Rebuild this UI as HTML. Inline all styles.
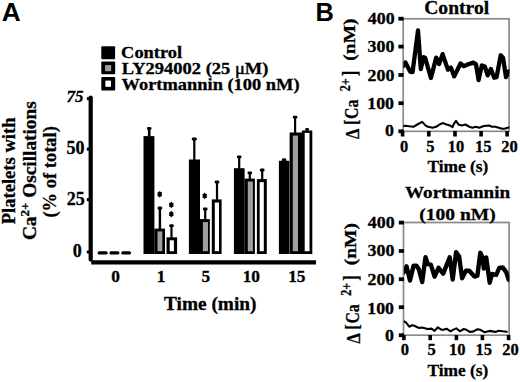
<!DOCTYPE html>
<html><head><meta charset="utf-8">
<style>
html,body{margin:0;padding:0;background:#fff;width:520px;height:382px;overflow:hidden}
svg{display:block}
.s{font-family:"Liberation Serif",serif;font-weight:bold;fill:#000;stroke:#000;stroke-width:0.3px}
.h{font-family:"Liberation Sans",sans-serif;font-weight:bold;fill:#000}
</style></head><body>
<svg width="520" height="382" viewBox="0 0 520 382">
<rect width="520" height="382" fill="#fff"/>
<rect x="101.3" y="46.3" width="13.8" height="12.9" rx="1" fill="#000"/>
<rect x="101.3" y="61.6" width="13.9" height="12.6" rx="1" fill="#000"/>
<rect x="105.1" y="65.1" width="6.1" height="6.1" fill="#a0a0a0"/>
<rect x="101.3" y="76.9" width="13.9" height="13.6" rx="1" fill="#000"/>
<rect x="105.4" y="80.6" width="5.6" height="6.2" fill="#fff"/>
<path d="M90.7,97.6 V259.6" stroke="#000" stroke-width="4.2" fill="none" stroke-linecap="round"/>
<path d="M91.2,262.3 H316" stroke="#000" stroke-width="4.2" fill="none"/>
<rect x="86.8" y="97.1" width="3" height="3.2" rx="0.8" fill="#000"/>
<rect x="86.8" y="147.6" width="3" height="3.2" rx="0.8" fill="#000"/>
<rect x="86.8" y="198.1" width="3" height="3.2" rx="0.8" fill="#000"/>
<rect x="86.8" y="250.4" width="3" height="3.2" rx="0.8" fill="#000"/>
<g stroke="#000" stroke-width="3.4" stroke-linecap="round">
<path d="M99.2,252.9 H106"/>
<path d="M111.1,252.9 H117.8"/>
<path d="M122.9,252.9 H129.4"/>
</g>
<rect x="143.5" y="136.1" width="10.90" height="117.90" fill="#000"/>
<rect x="147.90" y="128.40" width="2.6" height="8.20" fill="#000"/>
<rect x="146.90" y="127.00" width="4.6" height="2.8" rx="1.2" fill="#000"/>
<rect x="154.3" y="228.6" width="10.70" height="25.40" fill="#000"/>
<rect x="157.5" y="231.4" width="4.80" height="19.80" fill="#a0a0a0"/>
<rect x="158.70" y="208.00" width="2.4" height="21.10" fill="#000"/>
<rect x="157.60" y="206.60" width="4.6" height="2.8" rx="1.2" fill="#000"/>
<rect x="166.5" y="237.3" width="10.60" height="16.70" fill="#000"/>
<rect x="169.7" y="240.3" width="4.20" height="10.90" fill="#fff"/>
<rect x="170.40" y="225.70" width="2.2" height="12.10" fill="#000"/>
<rect x="169.20" y="224.30" width="4.6" height="2.8" rx="1.2" fill="#000"/>
<rect x="188.9" y="159.5" width="11.10" height="94.50" fill="#000"/>
<rect x="193.20" y="139.00" width="2.2" height="21.00" fill="#000"/>
<rect x="191.80" y="137.60" width="5" height="2.8" rx="1.2" fill="#000"/>
<rect x="199.9" y="219.1" width="9.90" height="34.90" fill="#000"/>
<rect x="202.9" y="222.1" width="5.10" height="29.10" fill="#a0a0a0"/>
<rect x="204.10" y="209.00" width="2.2" height="10.60" fill="#000"/>
<rect x="202.90" y="207.60" width="4.6" height="2.8" rx="1.2" fill="#000"/>
<rect x="211.8" y="199.4" width="9.80" height="54.60" fill="#000"/>
<rect x="214.8" y="202.5" width="4.20" height="48.70" fill="#fff"/>
<rect x="215.90" y="182.00" width="2.2" height="17.90" fill="#000"/>
<rect x="214.70" y="180.60" width="4.6" height="2.8" rx="1.2" fill="#000"/>
<rect x="233.9" y="168.2" width="10.70" height="85.80" fill="#000"/>
<rect x="238.10" y="156.80" width="2.2" height="11.90" fill="#000"/>
<rect x="236.90" y="155.40" width="4.6" height="2.8" rx="1.2" fill="#000"/>
<rect x="244.5" y="178.6" width="10.40" height="75.40" fill="#000"/>
<rect x="247.8" y="181.5" width="5.10" height="69.70" fill="#a0a0a0"/>
<rect x="248.70" y="172.90" width="2.2" height="6.20" fill="#000"/>
<rect x="247.50" y="171.50" width="4.6" height="2.8" rx="1.2" fill="#000"/>
<rect x="256.9" y="179.1" width="9.90" height="74.90" fill="#000"/>
<rect x="259.7" y="182.1" width="4.10" height="69.10" fill="#fff"/>
<rect x="261.10" y="170.00" width="2.2" height="9.60" fill="#000"/>
<rect x="259.90" y="168.60" width="4.6" height="2.8" rx="1.2" fill="#000"/>
<rect x="278.9" y="160.8" width="10.50" height="93.20" fill="#000"/>
<rect x="281.8" y="158.2" width="4.6" height="4" rx="1.5" fill="#000"/>
<rect x="289.6" y="132.5" width="12.40" height="121.50" fill="#000"/>
<rect x="292.8" y="135.6" width="5.20" height="115.60" fill="#a0a0a0"/>
<rect x="294.00" y="117.10" width="2.2" height="15.90" fill="#000"/>
<rect x="292.80" y="115.70" width="4.6" height="2.8" rx="1.2" fill="#000"/>
<rect x="301.9" y="130.5" width="10.40" height="123.50" fill="#000"/>
<rect x="304.7" y="132.9" width="4.80" height="118.30" fill="#fff"/>
<rect x="305.2" y="128.1" width="3.8" height="3" rx="1.3" fill="#000"/>
<polygon points="159.70,190.90 158.69,192.09 157.36,192.60 157.67,194.30 157.36,196.00 158.69,196.51 159.70,197.70 160.71,196.51 162.04,196.00 161.72,194.30 162.04,192.60 160.71,192.09" fill="#000"/>
<polygon points="171.30,201.50 170.29,202.69 168.96,203.20 169.28,204.90 168.96,206.60 170.29,207.11 171.30,208.30 172.31,207.11 173.64,206.60 173.33,204.90 173.64,203.20 172.31,202.69" fill="#000"/>
<polygon points="171.30,210.70 170.29,211.89 168.96,212.40 169.28,214.10 168.96,215.80 170.29,216.31 171.30,217.50 172.31,216.31 173.64,215.80 173.33,214.10 173.64,212.40 172.31,211.89" fill="#000"/>
<polygon points="204.70,192.50 203.69,193.69 202.36,194.20 202.67,195.90 202.36,197.60 203.69,198.11 204.70,199.30 205.71,198.11 207.04,197.60 206.72,195.90 207.04,194.20 205.71,193.69" fill="#000"/>
<defs><clipPath id="c1"><rect x="403.4" y="10" width="106" height="124"/></clipPath><clipPath id="c2"><rect x="403.9" y="214" width="105.5" height="124"/></clipPath></defs>
<rect x="403.2" y="18.8" width="105.9" height="112.5" fill="none" stroke="#8a8a8a" stroke-width="1.7"/>
<g fill="#000">
<rect x="398.4" y="16.8" width="5.2" height="3.8"/>
<rect x="398.4" y="44.7" width="5.2" height="3.8"/>
<rect x="398.4" y="73.1" width="5.2" height="3.8"/>
<rect x="398.4" y="101.3" width="5.2" height="3.8"/>
<rect x="398.4" y="129.4" width="5.2" height="3.8"/>
<rect x="400.8" y="131" width="3.6" height="5.5"/>
<rect x="427.0" y="131" width="3.6" height="5.5"/>
<rect x="453.2" y="131" width="3.6" height="5.5"/>
<rect x="479.3" y="131" width="3.6" height="5.5"/>
<rect x="505.3" y="131" width="3.6" height="5.5"/>
</g>
<g clip-path="url(#c1)" fill="none" stroke="#000" stroke-linejoin="round" stroke-linecap="round">
<polyline stroke-width="4.3" points="402.9,66.3 405.4,62.4 410.3,71.8 412.6,72 418,30.5 420.8,69 423.6,57.2 425.2,58 430.9,78 436.2,57.6 439.1,64 442.6,54.1 447.9,69.6 450.9,67.6 454.2,76.4 460.5,63.5 463.7,66.2 468.3,64.3 473.3,62.6 476,64.4 478.6,80.1 481.8,65.4 484.8,66.5 487.7,75.4 490.9,68.9 494.2,77.7 496.6,77.1 500.7,55.3 503,57.7 506,77.1 508.3,72.4 509.5,71"/>
<polyline stroke-width="2.1" points="403.2,126 405.8,125.7 409.2,126.3 413.3,126.8 417.3,124.5 422.2,121.9 425.4,125.4 428,126.8 432.6,127.7 436.1,126.8 439.5,124.5 442.7,123.1 446.5,124.5 449.9,125.4 452.5,127.1 454,123.7 456,120.8 458.8,124.8 461.9,125.4 465.4,124.5 468.8,126.5 472.3,127.7 475.8,126.8 479.2,127.8 483.9,126 488.9,125.5 492.1,126.8 495.3,126.8 498.7,127.7 502.2,128.7 505.1,128.6 508.8,127.4"/>
</g>
<rect x="403.5" y="222.5" width="105.6" height="112.7" fill="none" stroke="#8a8a8a" stroke-width="1.7"/>
<g fill="#000">
<rect x="398.8" y="220.7" width="5.2" height="3.8"/>
<rect x="398.8" y="249.1" width="5.2" height="3.8"/>
<rect x="398.8" y="277.3" width="5.2" height="3.8"/>
<rect x="398.8" y="305.3" width="5.2" height="3.8"/>
<rect x="398.8" y="333.3" width="5.2" height="3.8"/>
<rect x="402.1" y="335" width="3.6" height="5.2"/>
<rect x="428.4" y="335" width="3.6" height="5.2"/>
<rect x="454.6" y="335" width="3.6" height="5.2"/>
<rect x="480.6" y="335" width="3.6" height="5.2"/>
<rect x="506.8" y="335" width="3.6" height="5.2"/>
</g>
<g clip-path="url(#c2)" fill="none" stroke="#000" stroke-linejoin="round" stroke-linecap="round">
<polyline stroke-width="4.4" points="403.5,272.5 406.6,266.4 410,280.6 413.6,265.6 416.3,265.6 418.8,269.3 422.2,282 425.5,257.2 427.8,264 430.8,264.6 434.6,276.6 438.5,267.8 443.2,273.6 449.7,257.4 452.7,279.5 456.1,252.2 459.1,256.6 462.1,278.3 466,270.8 469,270.6 474.5,276.6 477.4,275.6 480.3,252.7 482.7,258 483.8,268.6 486.2,257.4 489.7,282.7 492.1,273.9 496.2,275 499.2,268 502.7,267.4 506.2,272.1 508.6,279.7"/>
<polyline stroke-width="2.1" points="403.5,321.2 405.8,322.3 407.5,324.4 409.2,326.7 412.1,325.2 414.4,325.8 417.3,327.3 419.6,328 421.9,327.5 424.8,328.2 427.7,329 431.5,328.6 434.6,330.9 437.8,327.3 441.3,329.6 443.6,329.7 446.5,328.7 450.5,331.3 453.4,329.6 456.3,328.4 459.9,331.3 463.7,329 466.5,329.8 469.7,331.9 472.9,331.6 477.5,329.2 480.4,329.8 484.4,332.2 489.5,330.9 495.3,331.9 498.7,330.7 502.8,331.3 506.8,331.7"/>
</g>

<text class="h" font-size="26.5" transform="translate(1.66,21.30) scale(0.9915,1.0027)">A</text>
<text class="h" font-size="26.5" transform="translate(315.42,20.70) scale(0.9600,0.9973)">B</text>
<text class="s" font-size="17.3" transform="translate(121.10,57.70) scale(1.0637,1)">Control</text>
<text class="s" font-size="17.3" transform="translate(121.63,74.30) scale(1.0689,1)">LY294002 (25 <tspan font-weight="normal" stroke-width="0.5">μ</tspan>M)</text>
<text class="s" font-size="17.3" transform="translate(121.60,89.70) scale(1.0649,1)">Wortmannin (100 nM)</text>
<text class="s" font-size="17" font-style="italic" transform="translate(66.38,101.70) scale(1.0000,1)">75</text>
<text class="s" font-size="18" transform="translate(66.50,153.80) scale(1.0000,1)">50</text>
<text class="s" font-size="18" transform="translate(66.70,205.40) scale(1.0000,1)">25</text>
<text class="s" font-size="18" transform="translate(72.80,256.90) scale(1.0000,1)">0</text>
<text class="s" font-size="17.3" transform="translate(111.33,281.60) scale(1.0000,1)">0</text>
<text class="s" font-size="17.3" transform="translate(156.68,281.60) scale(1.0000,1)">1</text>
<text class="s" font-size="17.3" transform="translate(201.43,281.60) scale(1.0000,1)">5</text>
<text class="s" font-size="17.3" transform="translate(242.70,281.60) scale(1.0000,1)">10</text>
<text class="s" font-size="17.3" transform="translate(288.20,281.60) scale(1.0000,1)">15</text>
<text class="s" font-size="18.5" transform="translate(164.04,309.70) scale(1.0446,1)">Time (min)</text>
<text class="s" font-size="18" transform="translate(14.60,224.26) rotate(-90) scale(1.0320,1)">Platelets with</text>
<text class="s" font-size="18" transform="translate(35.70,240.11) rotate(-90) scale(1.0745,1)">Ca<tspan font-size="12" dy="-7">2+</tspan><tspan dy="7"> Oscillations</tspan></text>
<text class="s" font-size="18" transform="translate(55.80,217.57) rotate(-90) scale(1.0286,1)">(% of total)</text>
<text class="s" font-size="18.3" transform="translate(424.20,14.30) scale(1.0711,1)">Control</text>
<text class="s" font-size="17.5" transform="translate(405.00,198.10) scale(1.0930,1)">Wortmannin</text>
<text class="s" font-size="17.6" transform="translate(419.37,219.50) scale(1.1081,1)">(100 nM)</text>
<text class="s" font-size="17.2" transform="translate(367.87,23.70) scale(1.0400,1)">400</text>
<text class="s" font-size="17.2" transform="translate(367.61,51.80) scale(1.0400,1)">300</text>
<text class="s" font-size="17.2" transform="translate(367.61,80.90) scale(1.0400,1)">200</text>
<text class="s" font-size="17.2" transform="translate(367.22,109.20) scale(1.0400,1)">100</text>
<text class="s" font-size="17.2" transform="translate(384.88,136.40) scale(1.0400,1)">0</text>
<text class="s" font-size="17.2" transform="translate(367.87,228.00) scale(1.0400,1)">400</text>
<text class="s" font-size="17.2" transform="translate(367.61,256.10) scale(1.0400,1)">300</text>
<text class="s" font-size="17.2" transform="translate(367.61,285.20) scale(1.0400,1)">200</text>
<text class="s" font-size="17.2" transform="translate(367.22,313.50) scale(1.0400,1)">100</text>
<text class="s" font-size="17.2" transform="translate(384.88,340.70) scale(1.0400,1)">0</text>
<text class="s" font-size="16.5" transform="translate(400.07,151.60) scale(1.0000,1)">0</text>
<text class="s" font-size="16.5" transform="translate(426.18,151.60) scale(1.0000,1)">5</text>
<text class="s" font-size="16.5" transform="translate(447.77,151.60) scale(1.0000,1)">10</text>
<text class="s" font-size="16.5" transform="translate(474.98,151.60) scale(1.0000,1)">15</text>
<text class="s" font-size="16.5" transform="translate(501.35,151.60) scale(1.0000,1)">20</text>
<text class="s" font-size="16.5" transform="translate(400.68,355.40) scale(1.0000,1)">0</text>
<text class="s" font-size="16.5" transform="translate(427.57,355.40) scale(1.0000,1)">5</text>
<text class="s" font-size="16.5" transform="translate(448.88,355.40) scale(1.0000,1)">10</text>
<text class="s" font-size="16.5" transform="translate(475.57,355.40) scale(1.0000,1)">15</text>
<text class="s" font-size="16.5" transform="translate(502.15,355.40) scale(1.0000,1)">20</text>
<text class="s" font-size="17.5" transform="translate(427.45,171.50) scale(0.9917,1)">Time (s)</text>
<text class="s" font-size="17.5" transform="translate(427.45,375.80) scale(0.9917,1)">Time (s)</text>
<text class="s" font-size="20" transform="translate(358.80,138.91) rotate(-90) scale(0.8250,0.9736)">Δ</text>
<text class="s" font-size="20" transform="translate(356.84,125.05) rotate(-90) scale(0.8421,0.9672)">[</text>
<text class="s" font-size="20" transform="translate(358.35,118.99) rotate(-90) scale(0.7872,0.9852)">Ca</text>
<text class="s" font-size="13.5" transform="translate(350.20,91.25) rotate(-90) scale(0.8963,1.0222)">2+</text>
<text class="s" font-size="20" transform="translate(357.21,76.22) rotate(-90) scale(0.8421,1.0149)">]</text>
<text class="s" font-size="17.5" transform="translate(354.96,60.63) rotate(-90) scale(1.1123,0.9354)">(nM)</text>
<text class="s" font-size="20" transform="translate(359.80,343.51) rotate(-90) scale(0.8250,0.9736)">Δ</text>
<text class="s" font-size="20" transform="translate(357.84,329.65) rotate(-90) scale(0.8421,0.9672)">[</text>
<text class="s" font-size="20" transform="translate(359.35,323.59) rotate(-90) scale(0.7872,0.9852)">Ca</text>
<text class="s" font-size="13.5" transform="translate(351.20,295.85) rotate(-90) scale(0.8963,1.0222)">2+</text>
<text class="s" font-size="20" transform="translate(358.21,280.82) rotate(-90) scale(0.8421,1.0149)">]</text>
<text class="s" font-size="17.5" transform="translate(355.96,265.23) rotate(-90) scale(1.1123,0.9354)">(nM)</text>
</svg>
</body></html>
